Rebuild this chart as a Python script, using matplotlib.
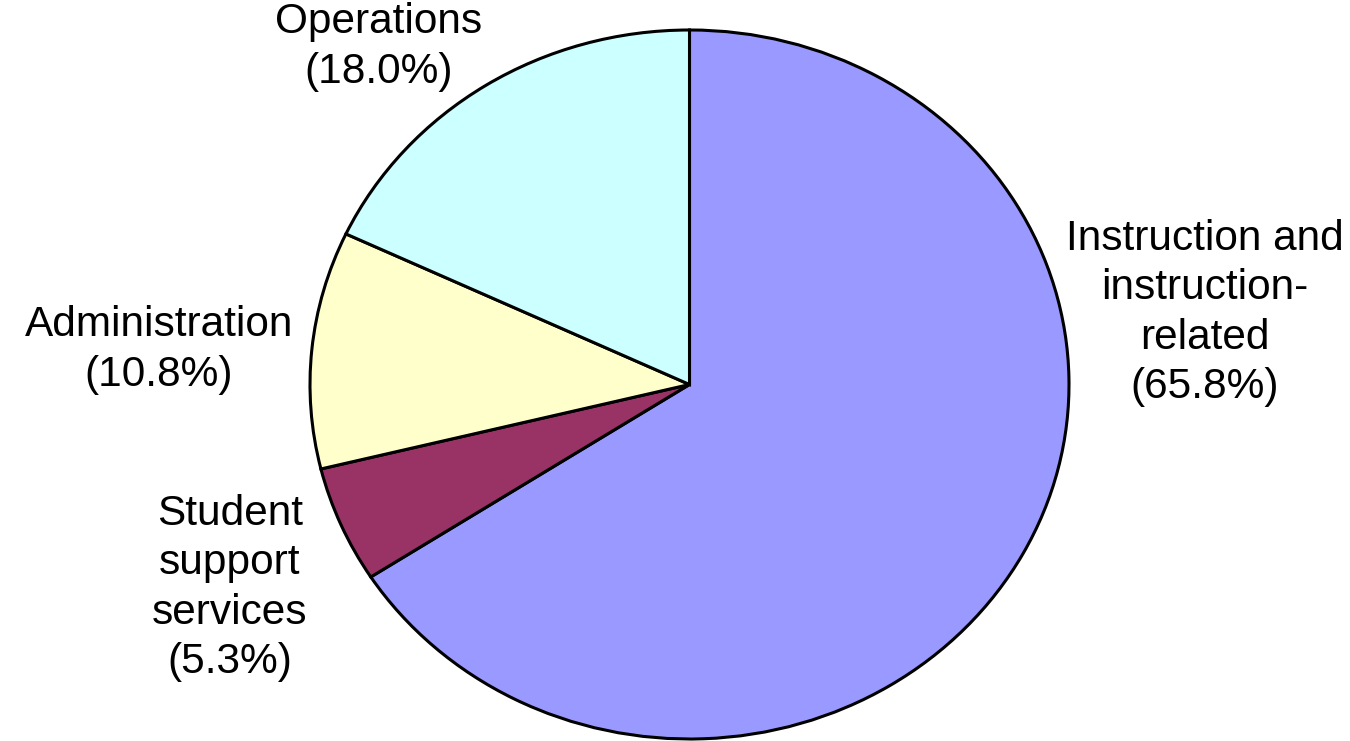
import matplotlib
matplotlib.use("Agg")
import matplotlib.pyplot as plt

categories = ["Instruction and\ninstruction-\nrelated", "Student\nsupport\nservices", "Administration", "Operations"]
values = [65.8, 5.3, 10.8, 18.0]
colors = ["#9999FF", "#993366", "#FFFFCC", "#CCFFFF"]

plt.rcParams['font.family'] = ['Liberation Sans', 'DejaVu Sans']
fig = plt.figure(figsize=(13.5, 7.41), dpi=100)
W, H = 1350, 741
# pie axes spans the ellipse
left, right, top, bottom = 310, 1069, 30, 739
ax = fig.add_axes([left / W, 1 - bottom / H, (right - left) / W, (bottom - top) / H])
ax.pie(values, colors=colors, startangle=90, counterclock=False,
       wedgeprops=dict(edgecolor="black", linewidth=2.2))
ax.set_aspect('auto')
ax.set_xlim(-1.0, 1.0)
ax.set_ylim(-1.0, 1.0)

label_pos = [(1205, 313), (230, 588), (159, 350), (379, 47)]
for name, v, (x, y) in zip(categories, values, label_pos):
    fig.text(x / W, 1 - y / H, f"{name}\n({v:.1f}%)", ha="center", va="center",
             fontsize=30.5, linespacing=1.3, color="black")

fig.savefig("out.png", dpi=100)
